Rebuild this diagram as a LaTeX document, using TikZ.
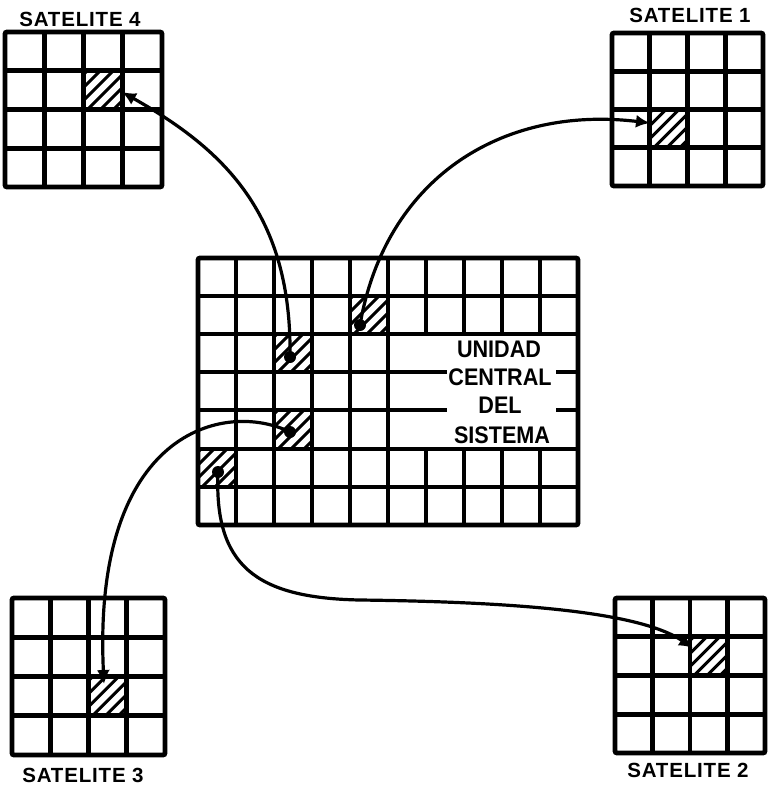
\documentclass[tikz,border=0pt]{standalone}
\usepackage{graphicx}
\usepackage{fontspec}
\setmainfont{Liberation Sans}
\newfontfamily\lblfont[LetterSpace=4]{Liberation Sans}
\usetikzlibrary{arrows.meta}
\tikzset{
  gridline/.style={line width=4.8pt},
  hatchline/.style={line width=3pt},
  link/.style={line width=3.2pt, -{Latex[length=14pt,width=13pt]}},
  dotmark/.style={circle, fill=black, inner sep=0pt, minimum size=12pt},
  satlabel/.style={font=\lblfont\fontsize{20.5}{24}\selectfont\bfseries, inner sep=0pt, anchor=base},
  cenlabel/.style={font=\fontsize{24}{28}\selectfont\bfseries, inner sep=0pt, anchor=base},
}
% x0, y0, cell width, cell height
\newcommand{\satgrid}[4]{%
  \draw[gridline, rounded corners=2pt] (#1,#2) rectangle ++(4*#3,4*#4);
  \foreach \k in {1,2,3} {
    \draw[gridline] (#1+\k*#3,#2) -- ++(0,4*#4);
    \draw[gridline] (#1,#2+\k*#4) -- ++(4*#3,0);
  }%
}
% x, y, w, h
\newcommand{\hatchcell}[4]{%
  \begin{scope}
    \clip (#1,#2) rectangle ++(#3,#4);
    \foreach \s in {-39,-26,...,39}
      \draw[hatchline] (#1+\s,#2+#4+4) -- ++(#4+8,-#4-8);
  \end{scope}%
}
\begin{document}
\begin{tikzpicture}[x=1pt,y=-1pt]
\useasboundingbox (0,0) rectangle (768,787);

% hatched cells
\hatchcell{350}{296}{38}{38}
\hatchcell{274}{334}{38}{38}
\hatchcell{274}{410}{38}{39}
\hatchcell{198}{449}{38}{38}
\hatchcell{83.5}{70.75}{39.25}{38.75}
\hatchcell{649.75}{109.5}{37.75}{38.25}
\hatchcell{88.5}{676.5}{38.25}{39.25}
\hatchcell{690}{636.75}{37.5}{38.75}

% satellite grids
\satgrid{5}{32}{39.25}{38.75}
\satgrid{612}{33}{37.75}{38.25}
\satgrid{12}{598}{38.25}{39.25}
\satgrid{615}{598}{37.5}{38.75}

% central grid
\draw[gridline, rounded corners=2pt] (198,258) rectangle (578,525);
\foreach \x in {236,274,312,350,388} \draw[gridline] (\x,258) -- (\x,525);
\foreach \x in {426,464,502,540} {
  \draw[gridline] (\x,258) -- (\x,334);
  \draw[gridline] (\x,449) -- (\x,525);
}
\foreach \y in {296,334,449,487} \draw[gridline] (198,\y) -- (578,\y);
\foreach \y in {372,410} {
  \draw[gridline] (198,\y) -- (447,\y);
  \draw[gridline] (556,\y) -- (578,\y);
}

% labels
\node[satlabel] (l4) at (80,26) {SATELITE 4};
\node[satlabel] (l1) at (690,23) {SATELITE 1};
\node[satlabel] (l3) at (83,782) {SATELITE 3};
\node[satlabel] (l2) at (688,777) {SATELITE 2};
\node[cenlabel] (c1) at (499,357) {\scalebox{0.9}[1]{UNIDAD}};
\node[cenlabel] (c2) at (500,385) {\scalebox{0.9}[1]{CENTRAL}};
\node[cenlabel] (c3) at (500,413) {\scalebox{0.9}[1]{DEL}};
\node[cenlabel] (c4) at (502,443) {\scalebox{0.9}[1]{SISTEMA}};

% start dots
\node[dotmark] (dA) at (360,325) {};
\node[dotmark] (dB) at (290,357) {};
\node[dotmark] (dC) at (290,432) {};
\node[dotmark] (dD) at (218,472) {};

% arrow targets
\coordinate (t4) at (122,92);
\coordinate (t1) at (650,123);
\coordinate (t3) at (104,684);
\coordinate (t2) at (693,648);
\coordinate (m2) at (360,600);

% connectors
\draw[link] (dB.center) .. controls (292,215) and (225,150) .. (t4);
\draw[link] (dA.center) .. controls (385,180) and (500,105) .. (t1);
\draw[link] (dC.center) .. controls (225,400) and (92,430) .. (t3);
\draw[link] (dD.center) .. controls (214,565) and (255,598) .. (m2)
  .. controls (520,602) and (640,612) .. (t2);
\end{tikzpicture}
\end{document}
